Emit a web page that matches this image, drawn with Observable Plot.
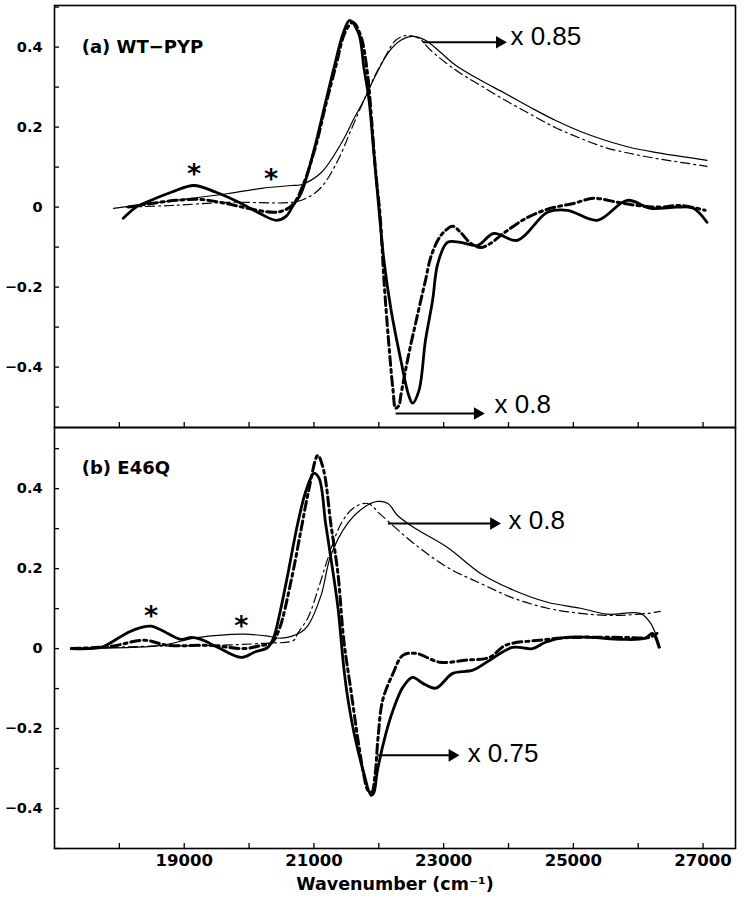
<!DOCTYPE html>
<html><head><meta charset="utf-8">
<script src="https://cdn.jsdelivr.net/npm/d3@7"></script>
<script src="https://cdn.jsdelivr.net/npm/@observablehq/plot@0.6"></script>
<style>
body{margin:0;background:#fff;}
#chart{width:744px;height:900px;}
#chart svg{display:block;}
</style></head><body><div id="chart"></div>
<script>
// ---- axes / ticks ----
const xDomain = [17000, 27500];
const xMajor = [19000, 21000, 23000, 25000, 27000];
const xMinor = [18000, 19000, 20000, 21000, 22000, 23000, 24000, 25000, 26000, 27000];
const yMajor = [-0.4, -0.2, 0, 0.2, 0.4];
const yMinor = [-0.5, -0.4, -0.3, -0.2, -0.1, 0, 0.1, 0.2, 0.3, 0.4, 0.5];
const xLabel = "Wavenumber (cm⁻¹)";

// ---- panel (a) WT-PYP : [wavenumber, value] ----
const wtDiffSolid = [[18060,-0.028],[18260,0.0],[18490,0.017],[18800,0.037],[19150,0.054],[19490,0.037],[19880,0.009],[20190,-0.018],[20420,-0.033],[20570,-0.023],[20680,0.004],[20800,0.034],[21000,0.142],[21150,0.242],[21310,0.349],[21450,0.434],[21550,0.467],[21690,0.434],[21770,0.349],[21850,0.267],[21920,0.142],[21990,0.017],[22080,-0.134],[22190,-0.258],[22340,-0.383],[22460,-0.47],[22520,-0.49],[22620,-0.458],[22720,-0.333],[22830,-0.233],[22910,-0.141],[23060,-0.088],[23260,-0.088],[23520,-0.096],[23770,-0.066],[24140,-0.083],[24600,-0.013],[24910,-0.008],[25370,-0.033],[25830,0.017],[26190,-0.003],[26600,0.0],[26850,-0.003],[27060,-0.038]];
const wtDiffDash = [[18140,0.0],[18490,0.009],[18880,0.017],[19260,0.019],[19650,0.009],[19980,-0.003],[20380,-0.013],[20540,-0.008],[20690,0.009],[20830,0.054],[21030,0.154],[21180,0.254],[21340,0.354],[21480,0.437],[21600,0.462],[21720,0.429],[21820,0.342],[21890,0.217],[21950,0.092],[22020,-0.021],[22080,-0.183],[22150,-0.333],[22220,-0.458],[22260,-0.503],[22310,-0.496],[22340,-0.47],[22410,-0.41],[22490,-0.346],[22560,-0.296],[22630,-0.246],[22720,-0.183],[22800,-0.126],[22910,-0.083],[23000,-0.063],[23140,-0.048],[23260,-0.063],[23420,-0.091],[23570,-0.101],[23720,-0.091],[23920,-0.066],[24290,-0.026],[24650,-0.003],[25000,0.009],[25310,0.022],[25680,0.012],[25990,0.004],[26340,0.0],[26650,0.004],[27030,-0.008]];
const wtAbsSolid = [[17910,-0.003],[18490,0.009],[19110,0.022],[19680,0.034],[20190,0.047],[20650,0.054],[20800,0.056],[21110,0.086],[21420,0.159],[21620,0.222],[21770,0.267],[21950,0.329],[22150,0.387],[22340,0.417],[22520,0.427],[22720,0.417],[22950,0.387],[23190,0.354],[23570,0.317],[23950,0.284],[24340,0.249],[24720,0.217],[25110,0.189],[25490,0.167],[25880,0.149],[26260,0.137],[26650,0.127],[27060,0.117]];
const wtAbsDash = [[18110,0.0],[18800,0.004],[19680,0.012],[20650,0.012],[20880,0.022],[21110,0.049],[21370,0.117],[21570,0.192],[21770,0.267],[21920,0.322],[22110,0.379],[22260,0.417],[22420,0.429],[22620,0.422],[22800,0.392],[23190,0.342],[23570,0.304],[23950,0.267],[24340,0.232],[24720,0.199],[25110,0.172],[25490,0.149],[25880,0.134],[26260,0.122],[26650,0.112],[27060,0.102]];

// ---- panel (b) E46Q ----
const e46DiffSolid = [[17260,0.0],[17720,0.003],[17880,0.016],[18140,0.041],[18340,0.053],[18490,0.056],[18650,0.046],[18950,0.023],[19110,0.028],[19260,0.023],[19520,0.003],[19880,-0.022],[20080,-0.009],[20290,0.003],[20380,0.028],[20460,0.078],[20600,0.188],[20750,0.313],[20880,0.396],[21000,0.438],[21080,0.426],[21180,0.313],[21260,0.228],[21370,0.103],[21460,-0.047],[21520,-0.122],[21620,-0.212],[21770,-0.312],[21880,-0.367],[21920,-0.362],[21980,-0.304],[22110,-0.212],[22220,-0.154],[22370,-0.097],[22520,-0.072],[22680,-0.087],[22880,-0.099],[23140,-0.062],[23450,-0.054],[23710,-0.029],[24060,0.003],[24370,0.0],[24570,0.016],[24880,0.028],[25250,0.028],[25750,0.023],[26110,0.026],[26220,0.038],[26320,0.003]];
const e46DiffDash = [[17260,0.0],[17880,0.006],[18380,0.021],[18750,0.008],[19420,0.008],[19920,0.0],[20190,0.008],[20340,0.013],[20460,0.046],[20650,0.171],[20800,0.296],[20920,0.396],[21060,0.483],[21150,0.446],[21260,0.313],[21370,0.188],[21460,0.021],[21570,-0.104],[21680,-0.229],[21770,-0.317],[21830,-0.354],[21890,-0.359],[21940,-0.32],[21990,-0.22],[22060,-0.129],[22220,-0.062],[22370,-0.017],[22570,-0.012],[22940,-0.034],[23340,-0.029],[23710,-0.022],[23950,0.008],[24480,0.021],[24980,0.028],[25750,0.028],[26170,0.028],[26290,0.038]];
const e46AbsSolid = [[17260,0.0],[18180,0.003],[18650,0.008],[19150,0.026],[19520,0.033],[19920,0.036],[20290,0.031],[20490,0.026],[20800,0.041],[20910,0.058],[21110,0.133],[21260,0.233],[21520,0.313],[21770,0.353],[21980,0.368],[22140,0.363],[22290,0.333],[22540,0.303],[23060,0.253],[23570,0.188],[24080,0.146],[24600,0.116],[25110,0.101],[25520,0.086],[26030,0.088],[26180,0.066],[26290,0.028],[26340,0.003]];
const e46AbsDash = [[17260,0.0],[18490,0.006],[19420,0.008],[20190,0.013],[20690,0.021],[20750,0.038],[20910,0.078],[21060,0.146],[21220,0.228],[21420,0.313],[21620,0.353],[21830,0.363],[22030,0.335],[22540,0.263],[23060,0.203],[23570,0.163],[24080,0.126],[24600,0.101],[25110,0.088],[25620,0.083],[26140,0.088],[26340,0.093]];

// ---- annotations ----
const wtTitle = [{x: 17420, y: 0.40, text: "(a) WT−PYP"}];
const e46Title = [{x: 17420, y: 0.45, text: "(b) E46Q"}];
const wtStars = [{x: 19150, y: 0.097}, {x: 20340, y: 0.084}];
const e46Stars = [{x: 18490, y: 0.096}, {x: 19880, y: 0.071}];
const wtArrows = [
  {x1: 22680, x2: 23940, y: 0.412, tx: 24030, ty: 0.425, label: "x 0.85"},
  {x1: 22260, x2: 23600, y: -0.516, tx: 23785, ty: -0.494, label: "x 0.8"}
];
const e46Arrows = [
  {x1: 22140, x2: 23850, y: 0.313, tx: 24000, ty: 0.321, label: "x 0.8"},
  {x1: 21980, x2: 23210, y: -0.267, tx: 23370, ty: -0.262, label: "x 0.75"}
];

const FONT = "'Liberation Sans', Arial, Helvetica, sans-serif";
const BOLD = "'DejaVu Sans', 'Liberation Sans', Arial, sans-serif";
const rows = a => a.map(([x, y]) => ({x, y}));
const fmtY = d => d === 0 ? "0" : d3.format(".1f")(d);

function panel({height, marginTop, marginBottom, yDomain, series, title, stars, arrows, bottomAxis}) {
  const [dSolid, dDash, aSolid, aDash] = series;
  const marks = [
    Plot.line(rows(aSolid), {x: "x", y: "y", stroke: "black", strokeWidth: 1.2, curve: "catmull-rom"}),
    Plot.line(rows(aDash), {x: "x", y: "y", stroke: "black", strokeWidth: 1.2, strokeDasharray: "9,4,2,4", curve: "catmull-rom"}),
    Plot.line(rows(dDash), {x: "x", y: "y", stroke: "black", strokeWidth: 3, strokeDasharray: "9,4,3,4", curve: "catmull-rom"}),
    Plot.line(rows(dSolid), {x: "x", y: "y", stroke: "black", strokeWidth: 2.8, curve: "catmull-rom"}),
    Plot.frame({stroke: "black", strokeWidth: 1.6}),
    Plot.axisY({ticks: yMajor, tickSize: 0, tickPadding: 12, tickFormat: fmtY, fontSize: 14.5, fontWeight: "bold", fontFamily: BOLD}),
    Plot.axisY({ticks: yMinor, tickSize: -5, tickFormat: () => "", strokeWidth: 1.3}),
    Plot.axisX({ticks: xMinor, tickSize: -5, tickFormat: () => "", strokeWidth: 1.3}),
    Plot.text(title, {x: "x", y: "y", text: "text", textAnchor: "start", fontSize: 18, fontWeight: "bold", fontFamily: BOLD}),
    Plot.text(stars, {x: "x", y: "y", text: () => "*", fontSize: 27, fontWeight: "bold", fontFamily: BOLD, dy: 6}),
    Plot.link(arrows, {x1: "x1", x2: "x2", y1: "y", y2: "y", stroke: "black", strokeWidth: 2}),
    Plot.dot(arrows, {x: "x2", y: "y", symbol: "triangle2", r: 6, fill: "black", rotate: 90, dx: -5}),
    Plot.text(arrows, {x: "tx", y: "ty", text: "label", textAnchor: "start", fontSize: 26, fontWeight: "normal", fontFamily: FONT})
  ];
  if (bottomAxis) {
    marks.push(Plot.axisX({ticks: xMajor, tickSize: 0, tickPadding: 6, tickFormat: d => String(d), fontSize: 16.5, fontWeight: "bold", fontFamily: BOLD, label: null}));
    marks.push(Plot.text([xLabel], {text: d => d, frameAnchor: "bottom", dy: 41, fontSize: 17.5, fontWeight: "bold", fontFamily: BOLD}));
  }
  return Plot.plot({
    width: 744, height, marginTop, marginBottom, marginLeft: 54, marginRight: 9,
    style: {fontFamily: FONT, color: "black", background: "white", overflow: "visible"},
    x: {domain: xDomain, label: null},
    y: {domain: yDomain, label: null},
    marks
  });
}

const topPanel = panel({height: 427, marginTop: 5, marginBottom: 0, yDomain: [-0.551, 0.504],
  series: [wtDiffSolid, wtDiffDash, wtAbsSolid, wtAbsDash], title: wtTitle, stars: wtStars, arrows: wtArrows, bottomAxis: false});
const bottomPanel = panel({height: 473, marginTop: 0, marginBottom: 52, yDomain: [-0.5, 0.553],
  series: [e46DiffSolid, e46DiffDash, e46AbsSolid, e46AbsDash], title: e46Title, stars: e46Stars, arrows: e46Arrows, bottomAxis: true});
document.getElementById("chart").append(topPanel, bottomPanel);
</script></body></html>
